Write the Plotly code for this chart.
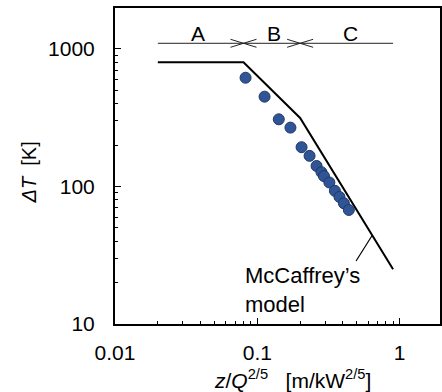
import math
import plotly.graph_objects as go

# ---- data ----
exp_x = [0.0827, 0.1125, 0.1416, 0.171, 0.2047, 0.233, 0.261, 0.2825, 0.294,
         0.321, 0.351, 0.378, 0.406, 0.440]
exp_y = [618, 450, 308, 268, 193, 167, 141, 127, 119, 107, 93, 84, 75.5, 67.5]

model_x = [0.02, 0.08, 0.2, 0.9]
model_y = [800, 800, 315, 25]

region_bounds = [0.02, 0.08, 0.2, 0.9]
region_labels = ["A", "B", "C"]
region_label_x = [0.038, 0.1305, 0.452]
bracket_y = 1100

x_tick_vals = [0.01, 0.1, 1]
x_tick_text = ["0.01", "0.1", "1"]
y_tick_vals = [10, 100, 1000]
y_tick_text = ["10", "100", "1000"]

FONT = "Arial, Liberation Sans, sans-serif"
FS = 21

fig = go.Figure()

# McCaffrey model line
fig.add_trace(go.Scatter(x=model_x, y=model_y, mode="lines",
                         line=dict(color="black", width=2), showlegend=False,
                         hoverinfo="skip"))

# experimental points
fig.add_trace(go.Scatter(x=exp_x, y=exp_y, mode="markers",
                         marker=dict(size=11, color="#2F5597",
                                     line=dict(color="#1F3864", width=1)),
                         showlegend=False))

# region bracket line
fig.add_trace(go.Scatter(x=[region_bounds[0], region_bounds[-1]],
                         y=[bracket_y, bracket_y], mode="lines",
                         line=dict(color="#222222", width=1), showlegend=False,
                         hoverinfo="skip"))

# chevrons at the inner boundaries
dxd = 13 / 142.3   # decades
dyd = 4 / 137.5
cx, cy = [], []
for b in region_bounds[1:-1]:
    for sgn in (-1, 1):
        xt = b * 10 ** (sgn * dxd)
        cx += [xt, b, xt, None]
        cy += [bracket_y * 10 ** dyd, bracket_y, bracket_y * 10 ** (-dyd), None]
fig.add_trace(go.Scatter(x=cx, y=cy, mode="lines",
                         line=dict(color="#222222", width=1), showlegend=False,
                         hoverinfo="skip"))

annotations = []
for lab, lx in zip(region_labels, region_label_x):
    annotations.append(dict(x=math.log10(lx), y=math.log10(bracket_y), xref="x", yref="y",
                            text=lab, showarrow=False, yanchor="bottom", yshift=-4,
                            font=dict(family=FONT, size=FS, color="black")))

# leader line to model
annotations.append(dict(x=math.log10(0.641), y=math.log10(44), xref="x", yref="y",
                        ax=-17, ay=27, text="", showarrow=True, arrowhead=0,
                        arrowwidth=1.2, arrowcolor="black", standoff=0))
annotations.append(dict(x=-1.097, y=1.247, xref="x", yref="y",
                        text="McCaffrey\u2019s<br>model", showarrow=False,
                        xanchor="left", yanchor="middle", align="left",
                        font=dict(family=FONT, size=22, color="black")))

# axis titles
annotations.append(dict(x=0.545, y=-0.175, xref="paper", yref="paper",
                        text="<i>z</i>/<i>Q</i><sup>2/5</sup>&nbsp;&nbsp;&nbsp;[m/kW<sup>2/5</sup>]",
                        showarrow=False, xanchor="center", yanchor="middle",
                        font=dict(family=FONT, size=FS, color="black")))
annotations.append(dict(x=-0.266, y=0.478, xref="paper", yref="paper",
                        text="<i>\u0394T</i>&nbsp;&nbsp;[K]", textangle=-90,
                        showarrow=False, xanchor="center", yanchor="middle",
                        font=dict(family=FONT, size=20, color="black")))

x_minor = [m * 10 ** e for e in (-2, -1, 0) for m in range(2, 10)]
y_minor = [m * 10 ** e for e in (1, 2, 3) for m in range(2, 10)]

fig.update_layout(
    width=442, height=392,
    margin=dict(l=115, r=2, t=8, b=68, autoexpand=False),
    paper_bgcolor="white", plot_bgcolor="white",
    font=dict(family=FONT, size=FS, color="black"),
    annotations=annotations,
    xaxis=dict(type="log", range=[-2, 0.284], showgrid=False, zeroline=False,
               automargin=False,
               showline=True, linecolor="black", linewidth=2, mirror=True,
               ticks="inside", ticklen=6, tickwidth=1, tickcolor="black",
               tickvals=x_tick_vals, ticktext=x_tick_text, ticklabelstandoff=9,
               minor=dict(ticks="inside", ticklen=3, tickwidth=1, tickcolor="black",
                          tickvals=x_minor, showgrid=False)),
    yaxis=dict(type="log", range=[1, 3.298], showgrid=False, zeroline=False,
               automargin=False,
               showline=True, linecolor="black", linewidth=2, mirror=True,
               ticks="inside", ticklen=6, tickwidth=1, tickcolor="black",
               tickvals=y_tick_vals, ticktext=y_tick_text, ticklabelstandoff=14,
               minor=dict(ticks="inside", ticklen=3, tickwidth=1, tickcolor="black",
                          tickvals=y_minor, showgrid=False)),
)

fig.write_html("out.html", config={"displayModeBar": False},
               post_script="document.body.style.margin='0';")
